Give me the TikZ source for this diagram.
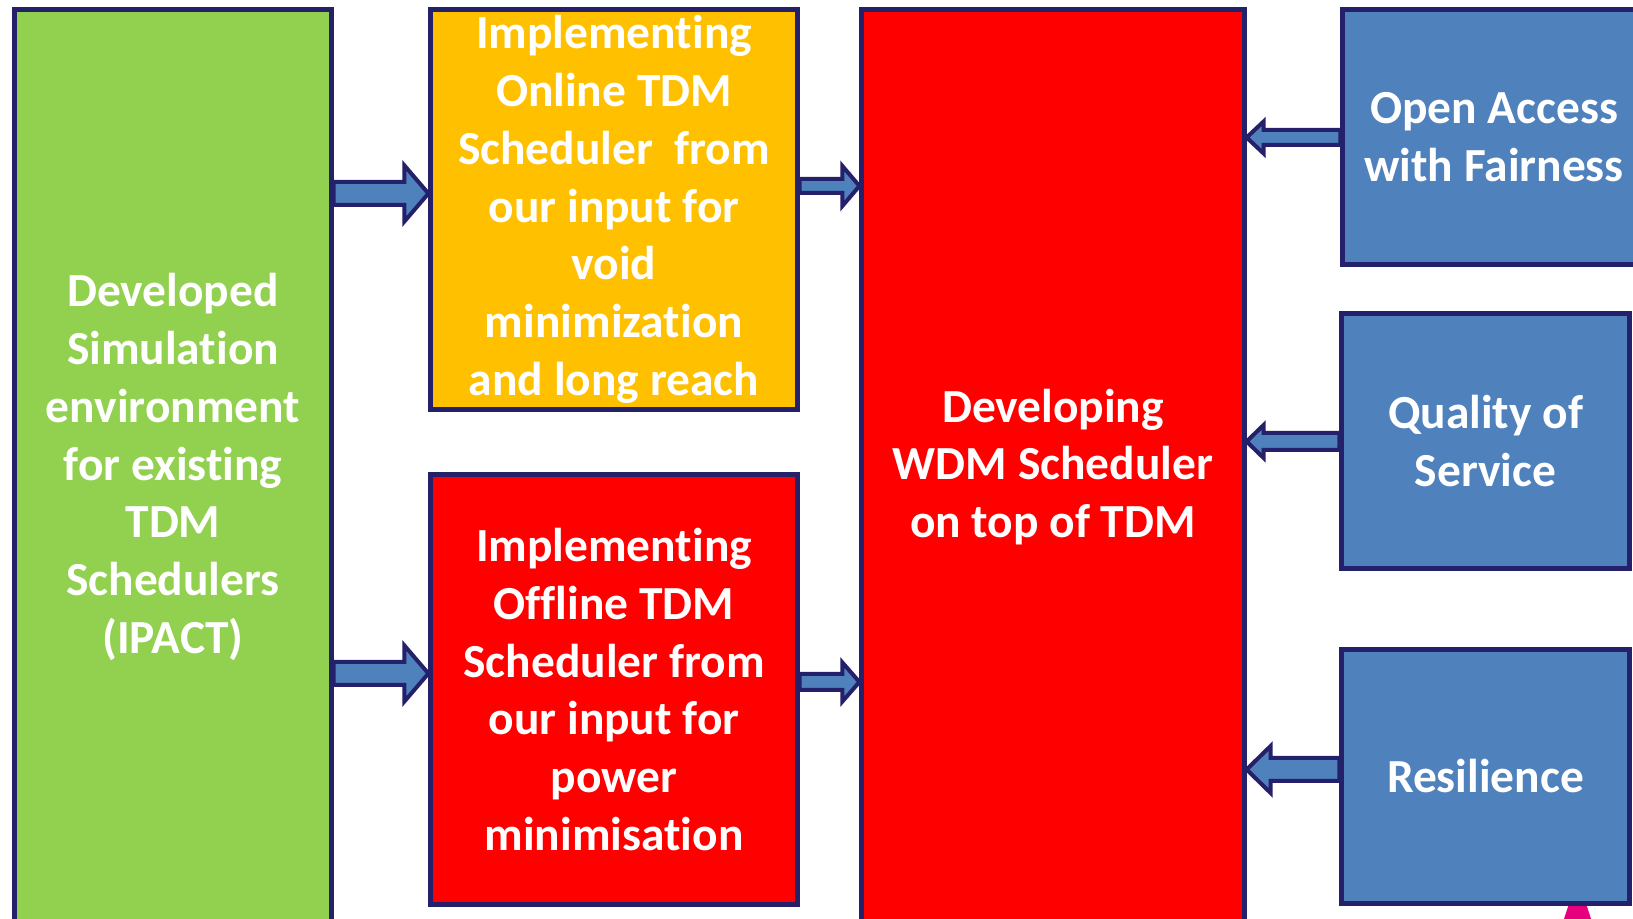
\documentclass[tikz,border=0pt]{standalone}
\usepackage{fontspec}
\setmainfont{Carlito}[Ligatures={NoCommon}]
\usetikzlibrary{calc}
\definecolor{boxline}{HTML}{25206A}
\definecolor{arrowblue}{HTML}{4F81BD}
\definecolor{simgreen}{HTML}{92D050}
\definecolor{onlineorange}{HTML}{FFC000}
\definecolor{tipmagenta}{HTML}{E6007E}
% block arrow: from, to, y, shaft half, head half, head length (signed)
\newcommand{\fatarrow}[6]{%
 \coordinate (fa-s) at (#1 |- 0,#3);
 \coordinate (fa-t) at (#2 |- 0,#3);
 \draw[fatarrow] ($(fa-s)+(0,-#4)$) -- ($(fa-t)+(#6,-#4)$) -- ($(fa-t)+(#6,-#5)$) -- (fa-t)
  -- ($(fa-t)+(#6,#5)$) -- ($(fa-t)+(#6,#4)$) -- ($(fa-s)+(0,#4)$) -- cycle;}

\begin{document}
\begin{tikzpicture}[x=0.01cm, y=-0.01cm,
 box/.style={draw=boxline, line width=0.05cm, text=white, align=center, inner sep=0pt,
  font=\bfseries\fontsize{13.5}{16.45}\selectfont},
 fatarrow/.style={draw=boxline, fill=arrowblue, line width=0.04cm, line join=miter}]
 \useasboundingbox (0,0) rectangle (1633,919);
 \clip (0,0) rectangle (1633,919);
 \fill[white] (0,0) rectangle (1633,919);

 \node[box, name=sim, fill=simgreen, minimum width=3.16cm, minimum height=9.14cm] at (173,467)
  {Developed\\Simulation\\environment\\for existing\\TDM\\Schedulers\\(IPACT)};
 \node[box, name=online, fill=onlineorange, minimum width=3.66cm, minimum height=3.99cm] at (614,209.5)
  {Implementing\\Online TDM\\Scheduler\ \ from\\our input for\\void\\minimization\\and long reach};
 \node[box, name=offline, fill=red, minimum width=3.66cm, minimum height=4.29cm] at (614,689.5)
  {Implementing\\Offline TDM\\Scheduler from\\our input for\\power\\minimisation};
 \node[box, name=wdm, fill=red, minimum width=3.82cm, minimum height=9.14cm] at (1053,467)
  {Developing\\WDM Scheduler\\on top of TDM};
 \node[box, name=fair, fill=arrowblue, minimum width=3.02cm, minimum height=2.54cm] at (1494,137)
  {Open Access\\with Fairness};
 \node[box, name=qos, fill=arrowblue, minimum width=2.87cm, minimum height=2.54cm] at (1485.5,441)
  {Quality of\\Service};
 \fill[tipmagenta] (1577.5,878) -- (1557,940) -- (1598,940) -- cycle;
 \node[box, name=resil, fill=arrowblue, minimum width=2.87cm, minimum height=2.53cm] at (1485.5,776.5)
  {Resilience};

 \fatarrow{sim.east}{online.west}{193.5}{11.5}{28}{-24}
 \fatarrow{sim.east}{offline.west}{673.5}{11.5}{28}{-24}
 \fatarrow{online.east}{wdm.west}{186}{7}{20}{-17}
 \fatarrow{offline.east}{wdm.west}{682}{8}{19.5}{-17}
 \fatarrow{fair.west}{wdm.east}{137.5}{7.5}{16}{17}
 \fatarrow{qos.west}{wdm.east}{441.5}{8.5}{16.5}{17}
 \fatarrow{resil.west}{wdm.east}{769.5}{11.5}{23.5}{24}
\end{tikzpicture}
\end{document}
